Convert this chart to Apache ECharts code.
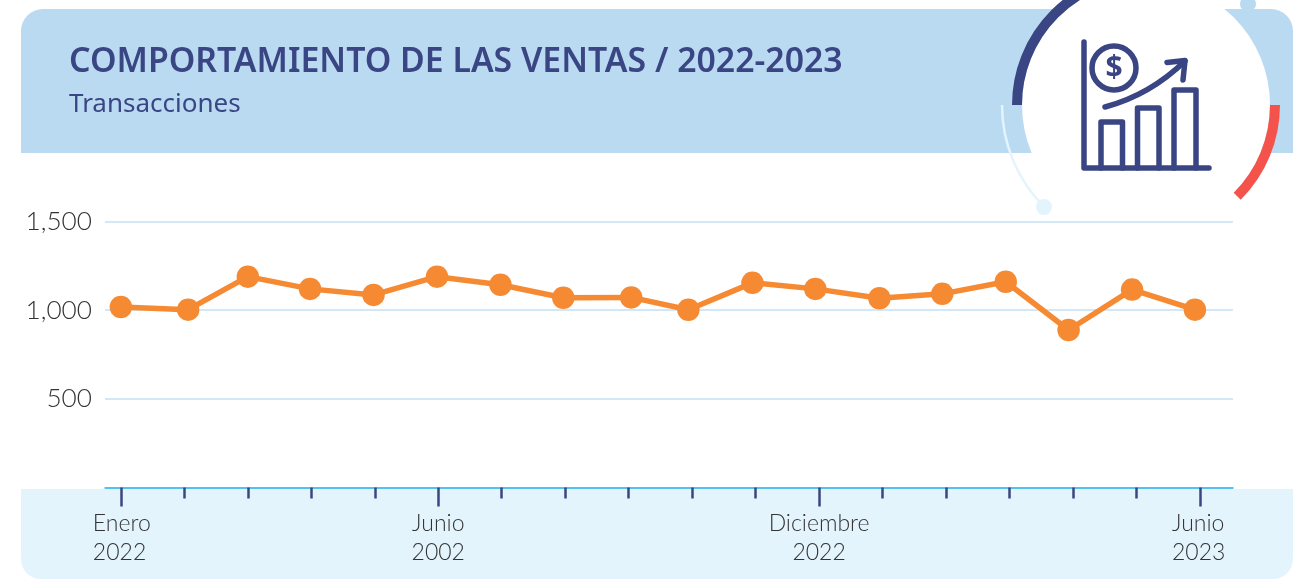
<!DOCTYPE html>
<html>
<head>
<meta charset="utf-8">
<title>Comportamiento de las ventas</title>
<style>
  html, body { margin: 0; padding: 0; background: #fff; }
  #chart { width: 1303px; height: 579px; }
</style>
<script src="https://cdn.jsdelivr.net/npm/echarts@6/dist/echarts.min.js"></script>
</head>
<body>
<div id="chart"></div>
<script>
// months since Enero 2022
var months = [0, 1.06, 2.0, 2.98, 3.98, 4.98, 5.98, 6.97, 8.04, 8.94, 9.95, 10.94, 11.95, 12.94, 13.94, 14.93, 15.93, 16.92]
var ventas = [1018, 1003, 1189, 1120, 1086, 1189, 1143, 1070, 1072, 1002, 1154, 1120, 1067, 1092, 1160, 888, 1116, 1003]
var yTicks = [500, 1000, 1500]
var xTicks = [0, 1, 2, 3, 4, 5, 6, 7, 8, 9, 10, 11, 12, 13, 14, 15, 16, 17]
var xLabelTicks = [0, 5, 11, 17]
var xLabels = { 0: ['Enero', '2022'], 5: ['Junio', '2002'], 11: ['Diciembre', '2022'], 17: ['Junio', '2023'] }

var NAVY = '#3A4583'
var ORANGE = '#F58A33'
var TEXT = '#333333'
var seriesData = months.map(function (m, i) { return [m, ventas[i]] })

var iconStyle = { fill: 'none', stroke: NAVY, lineWidth: 5.5, lineCap: 'round', lineJoin: 'round' }
function iconLine(points) {
  return { type: 'polyline', z: -1, shape: { points: points }, style: iconStyle }
}

var chart = echarts.init(document.getElementById('chart'))
chart.setOption({
  animation: false,
  backgroundColor: '#fff',
  title: [
    { text: 'COMPORTAMIENTO DE LAS VENTAS / 2022-2023', left: 64, top: 40, textStyle: { fontFamily: 'Noto Sans', fontSize: 33.8, fontWeight: 600, color: NAVY } },
    { text: 'Transacciones', left: 64, top: 87, textStyle: { fontFamily: 'Noto Sans', fontSize: 26, fontWeight: 400, color: NAVY } }
  ],
  grid: { left: 105, right: 70, top: 221.5, bottom: 91.5 },
  yAxis: {
    type: 'value', min: 0, max: 1500, interval: 500,
    axisLine: { show: false }, axisTick: { show: false },
    axisLabel: {
      customValues: yTicks, margin: 13, fontFamily: 'Lato', fontWeight: 300, fontSize: 26.2, color: TEXT,
      formatter: function (v) { return v.toLocaleString('en-US') }
    },
    splitLine: { lineStyle: { color: '#C5E0F5', width: 1.5 } }
  },
  xAxis: [
    {
      type: 'value', position: 'bottom', min: -0.25, max: 17.52,
      splitLine: { show: false },
      axisLine: { lineStyle: { color: '#2BB5EE', width: 1.5 } },
      axisTick: { customValues: xTicks, length: 11, lineStyle: { color: NAVY, width: 2.5 } },
      axisLabel: {
        customValues: xLabelTicks, margin: 21.5, color: TEXT, fontFamily: 'Lato', fontWeight: 300, fontSize: 23,
        formatter: function (v) {
          var s = (v === 0 || v === 17) ? 'l' : 'c'
          return '{' + s + '|' + xLabels[v][0] + '}\n{' + s + '|' + xLabels[v][1] + '}'
        },
        rich: {
          l: { fontFamily: 'Lato', fontWeight: 300, fontSize: 23, color: TEXT, lineHeight: 29, width: 56, align: 'left' },
          c: { fontFamily: 'Lato', fontWeight: 300, fontSize: 23, color: TEXT, lineHeight: 29, align: 'center' }
        }
      }
    },
    {
      type: 'value', position: 'bottom', min: -0.25, max: 17.52,
      splitLine: { show: false },
      axisLine: { show: false },
      axisTick: { customValues: xLabelTicks, length: 19, lineStyle: { color: NAVY, width: 2.5 } },
      axisLabel: { show: false }
    }
  ],
  series: [{
    type: 'line', xAxisIndex: 0, data: seriesData,
    symbol: 'circle', symbolSize: 22.5,
    lineStyle: { color: ORANGE, width: 5.5 },
    itemStyle: { color: ORANGE }
  }],
  graphic: [
    // header and footer bands
    { type: 'rect', z: -3, shape: { x: 21, y: 9, width: 1272, height: 144, r: [22, 22, 0, 0] }, style: { fill: '#BADAF2' } },
    { type: 'rect', z: -3, shape: { x: 21, y: 489, width: 1272, height: 90, r: [0, 0, 20, 20] }, style: { fill: '#E4F4FD' } },
    // badge behind the icon
    { type: 'circle', z: -3, shape: { cx: 1248, cy: 4, r: 8 }, style: { fill: '#BADAF2' } },
    { type: 'circle', z: -2, shape: { cx: 1146, cy: 105, r: 124 }, style: { fill: '#fff' } },
    { type: 'arc', z: -1, shape: { cx: 1146, cy: 105, r: 129, startAngle: Math.PI, endAngle: Math.PI * 1.5 }, style: { fill: 'none', stroke: NAVY, lineWidth: 10 } },
    { type: 'arc', z: -1, shape: { cx: 1146, cy: 105, r: 129, startAngle: 0, endAngle: Math.PI / 4 }, style: { fill: 'none', stroke: '#F4534B', lineWidth: 10 } },
    { type: 'arc', z: -1, shape: { cx: 1146, cy: 105, r: 144, startAngle: Math.PI * 0.75, endAngle: Math.PI }, style: { fill: 'none', stroke: '#E4F4FD', lineWidth: 2.5 } },
    { type: 'circle', z: -1, shape: { cx: 1044, cy: 207, r: 8 }, style: { fill: '#E4F4FD' } },
    // icon
    iconLine([[1084, 42], [1084, 168], [1209, 168]]),
    iconLine([[1101, 168], [1101, 122], [1122.5, 122], [1122.5, 168]]),
    iconLine([[1137.5, 168], [1137.5, 108], [1159, 108], [1159, 168]]),
    iconLine([[1174, 168], [1174, 90], [1196, 90], [1196, 168]]),
    { type: 'bezierCurve', z: -1, shape: { x1: 1105, y1: 107, cpx1: 1150, cpy1: 95, x2: 1185, y2: 61 }, style: iconStyle },
    iconLine([[1167, 62.5], [1185, 60.5], [1183, 80]]),
    { type: 'circle', z: -1, shape: { cx: 1114, cy: 68, r: 22 }, style: { fill: 'none', stroke: NAVY, lineWidth: 5.5 } },
    { type: 'text', z: -1, x: 1114, y: 68, style: { text: '$', fill: NAVY, fontFamily: 'Noto Sans', fontWeight: 700, fontSize: 30, align: 'center', verticalAlign: 'middle' } }
  ]
})
</script>
</body>
</html>
